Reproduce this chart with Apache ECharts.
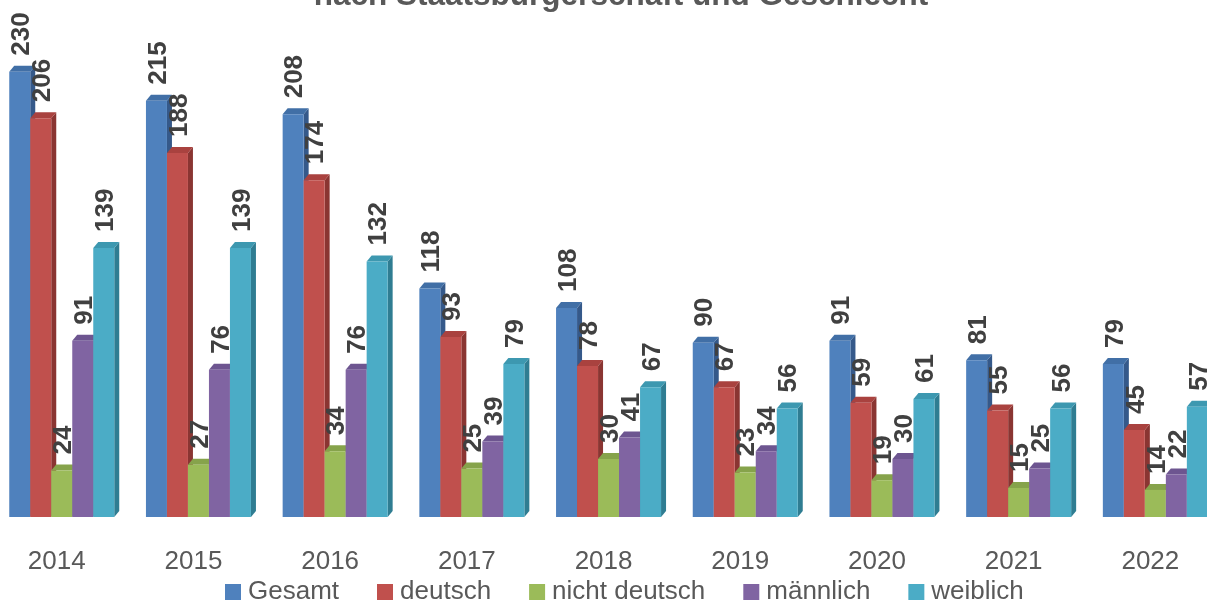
<!DOCTYPE html>
<html>
<head>
<meta charset="utf-8">
<script src="https://cdn.jsdelivr.net/npm/echarts@6/dist/echarts.min.js"></script>
<style>html,body{margin:0;padding:0;background:#fff;overflow:hidden}#c{width:1240px;height:601px;margin-left:-12px}</style>
</head>
<body>
<div id="c"></div>
<script>
const categories = ['2014','2015','2016','2017','2018','2019','2020','2021','2022'];
const seriesNames = ['Gesamt','deutsch','nicht deutsch','männlich','weiblich'];
const gesamt = [230,215,208,118,108,90,91,81,79];
const deutsch = [206,188,174,93,78,67,59,55,45];
const nichtDeutsch = [24,27,34,25,30,23,19,15,14];
const maennlich = [91,76,76,39,41,34,30,25,22];
const weiblich = [139,139,132,79,67,56,61,56,57];
const titleText = 'nach Staatsbürgerschaft und Geschlecht';

const values = [gesamt, deutsch, nichtDeutsch, maennlich, weiblich];
const frontColors = ['#4F81BD','#C0504D','#9BBB59','#8064A2','#4BACC6'];
const sideColors  = ['#35598A','#8A3532','#6F8A3C','#5A4677','#2F7D92'];
const topColors   = ['#416FA6','#A9423F','#86A34B','#6D5590','#3D98B0'];

const FONT = '"Liberation Sans", Arial, sans-serif';
const BW = 21, DX = 5, DY = 6;

function makeRender(s) {
  return function (params, api) {
    const ci = api.value(0), v = api.value(1);
    const base = api.coord([ci, 0]);
    const top = api.coord([ci, v]);
    const x0 = base[0] - 2.5 * BW + s * BW;
    const x1 = x0 + BW;
    const yT = top[1], yB = base[1];
    return {
      type: 'group',
      children: [
        { type: 'polygon', shape: { points: [[x1, yT], [x1 + DX, yT - DY], [x1 + DX, yB - DY], [x1, yB]] },
          style: { fill: sideColors[s] } },
        { type: 'polygon', shape: { points: [[x0, yT], [x0 + DX, yT - DY], [x1 + DX, yT - DY], [x1, yT]] },
          style: { fill: topColors[s] } },
        { type: 'rect', shape: { x: x0, y: yT, width: BW, height: yB - yT },
          style: { fill: frontColors[s] } },
        { type: 'text', x: x0 + BW / 2 + 2, y: yT - 16, rotation: Math.PI / 2, z2: 100,
          style: { text: String(v), fill: '#404040', font: 'bold 26px ' + FONT,
                   align: 'left', verticalAlign: 'middle' } }
      ]
    };
  };
}

const series = seriesNames.map((name, s) => ({
  type: 'custom',
  name: name,
  xAxisIndex: 0, yAxisIndex: 0,
  itemStyle: { color: frontColors[s] },
  renderItem: makeRender(s),
  data: values[s].map((v, i) => [i, v]),
  encode: { x: 0, y: 1 },
  clip: false
}));

const chart = echarts.init(document.getElementById('c'));
chart.setOption({
  animation: false,
  backgroundColor: '#ffffff',
  graphic: [{
    type: 'text', x: 633, y: -20,
    style: { text: titleText, fill: '#595959', font: 'bold 31.5px ' + FONT, align: 'center', verticalAlign: 'top' }
  }],
  grid: [
    { left: 5.4, width: 1230.3, top: 33, bottom: 84, containLabel: false },
    { left: 0.4, width: 1230.3, top: 33, bottom: 84, containLabel: false }
  ],
  xAxis: [
    { type: 'category', data: categories, gridIndex: 0,
      axisLine: { show: false }, axisTick: { show: false }, axisLabel: { show: false } },
    { type: 'category', data: categories, gridIndex: 1,
      axisLine: { show: false }, axisTick: { show: false },
      axisLabel: { color: '#595959', fontSize: 26, fontFamily: FONT, margin: 32 } }
  ],
  yAxis: [
    { type: 'value', min: 0, max: 250, show: false, gridIndex: 0, splitLine: { show: false } },
    { type: 'value', min: 0, max: 250, show: false, gridIndex: 1, splitLine: { show: false } }
  ],
  legend: {
    data: seriesNames, left: 237, top: 579, padding: 0,
    icon: 'rect', itemWidth: 16, itemHeight: 16, itemGap: 38,
    textStyle: { color: '#595959', fontSize: 26, fontFamily: FONT, padding: [0, 0, 0, 2] }
  },
  series: series
});
</script>
</body>
</html>
